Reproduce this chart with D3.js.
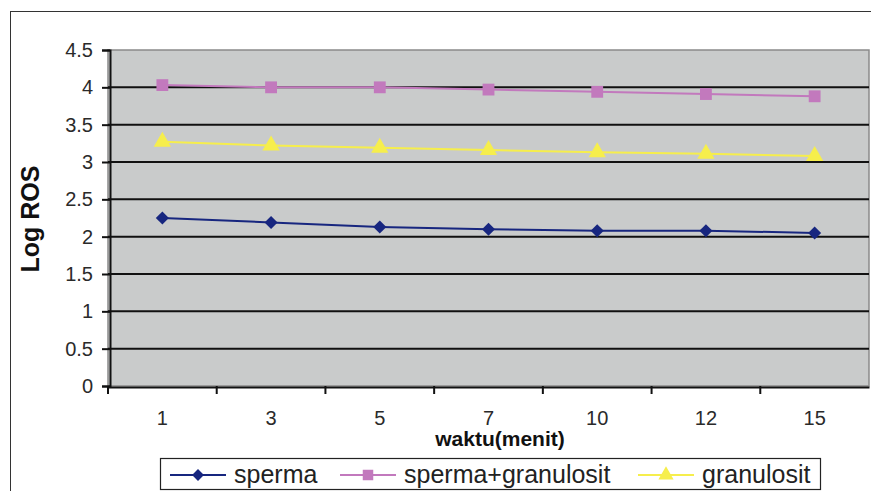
<!DOCTYPE html>
<html>
<head>
<meta charset="utf-8">
<script src="https://cdn.jsdelivr.net/npm/d3@7"></script>
<style>
  body { margin: 0; background: #fff; }
  svg { display: block; font-family: Arial, "Liberation Sans", sans-serif; }
</style>
</head>
<body>
<div id="chart"></div>
<script>
const categories = ["1", "3", "5", "7", "10", "12", "15"];
const sperma = [2.25, 2.19, 2.13, 2.10, 2.08, 2.08, 2.05];
const spermaGranulosit = [4.03, 4.00, 4.00, 3.97, 3.94, 3.91, 3.88];
const granulosit = [3.27, 3.22, 3.19, 3.16, 3.13, 3.11, 3.08];
const yTicks = [0, 0.5, 1, 1.5, 2, 2.5, 3, 3.5, 4, 4.5];

const series = [
  { name: "sperma", values: sperma, color: "#17267f", shape: "diamond" },
  { name: "sperma+granulosit", values: spermaGranulosit, color: "#c279bd", shape: "square" },
  { name: "granulosit", values: granulosit, color: "#f6ee4c", shape: "triangle" }
];

const W = 871, H = 491;
const plot = { left: 108, right: 869, top: 50, bottom: 386 };

const svg = d3.select("#chart").append("svg")
  .attr("width", W)
  .attr("height", H);

// outer chart frame
svg.append("rect")
  .attr("x", 10.5).attr("y", 11.5)
  .attr("width", 880).attr("height", 500)
  .attr("fill", "#fff")
  .attr("stroke", "#333")
  .attr("stroke-width", 1);

const x = d3.scaleBand()
  .domain(categories)
  .range([plot.left, plot.right]);

const y = d3.scaleLinear()
  .domain([0, 4.5])
  .range([plot.bottom, plot.top]);

function marker(shape, big) {
  if (shape === "diamond") return d3.symbol().type(d3.symbolSquare).size(big ? 85 : 70)();
  if (shape === "square") return d3.symbol().type(d3.symbolSquare).size(big ? 140 : 110)();
  return d3.symbol().type(d3.symbolTriangle).size(big ? 130 : 100)();
}

// plot area
svg.append("rect")
  .attr("x", plot.left).attr("y", plot.top)
  .attr("width", plot.right - plot.left)
  .attr("height", plot.bottom - plot.top)
  .attr("fill", "#c9cbcb")
  .attr("stroke", "#8a8a8a")
  .attr("stroke-width", 1.5);

// gridlines
svg.append("g")
  .selectAll("line")
  .data(yTicks.filter(d => d > 0 && d < 4.5))
  .enter()
  .append("line")
  .attr("x1", plot.left)
  .attr("x2", plot.right)
  .attr("y1", d => y(d))
  .attr("y2", d => y(d))
  .attr("stroke", "#111")
  .attr("stroke-width", 2);

// y axis
const yAxis = svg.append("g")
  .attr("transform", `translate(${plot.left + 2},0)`)
  .call(d3.axisLeft(y).tickValues(yTicks).tickSize(8).tickPadding(9)
    .tickFormat(d => String(d)));
yAxis.select(".domain").attr("stroke", "#111").attr("stroke-width", 2);
yAxis.selectAll(".tick line").attr("stroke", "#111").attr("stroke-width", 2);
yAxis.selectAll("text").attr("fill", "#2a2a2a").style("font-size", "20px");

// x axis
const xAxis = svg.append("g")
  .attr("transform", `translate(0,${plot.bottom + 1})`)
  .call(d3.axisBottom(x).tickSize(0).tickPadding(24));
xAxis.select(".domain").attr("stroke", "#111").attr("stroke-width", 2);
xAxis.selectAll("text").attr("fill", "#2a2a2a").style("font-size", "20px");

// tick marks between categories
svg.append("g")
  .selectAll("line")
  .data(categories)
  .enter()
  .append("line")
  .attr("x1", d => x(d))
  .attr("x2", d => x(d))
  .attr("y1", plot.bottom)
  .attr("y2", plot.bottom + 8)
  .attr("stroke", "#111")
  .attr("stroke-width", 2);

// axis titles
svg.append("text")
  .attr("transform", `translate(39,${(plot.top + plot.bottom) / 2 + 1}) rotate(-90)`)
  .attr("text-anchor", "middle")
  .style("font-size", "25px")
  .style("font-weight", "bold")
  .attr("fill", "#111")
  .text("Log ROS");

svg.append("text")
  .attr("x", 500)
  .attr("y", 446)
  .attr("text-anchor", "middle")
  .style("font-size", "21px")
  .style("font-weight", "bold")
  .attr("fill", "#111")
  .text("waktu(menit)");

// series lines and markers
const line = d3.line()
  .x((d, i) => x(categories[i]) + x.bandwidth() / 2)
  .y(d => y(d));

series.forEach(s => {
  svg.append("path")
    .datum(s.values)
    .attr("d", line)
    .attr("fill", "none")
    .attr("stroke", s.color)
    .attr("stroke-width", 2);

  svg.append("g")
    .selectAll("path")
    .data(s.values)
    .enter()
    .append("path")
    .attr("transform", (d, i) => `translate(${x(categories[i]) + x.bandwidth() / 2},${y(d)})` +
      (s.shape === "diamond" ? " rotate(45)" : ""))
    .attr("d", marker(s.shape, true))
    .attr("fill", s.color);
});

// legend
const legend = svg.append("g");
legend.append("rect")
  .attr("x", 160.5).attr("y", 458.5)
  .attr("width", 660).attr("height", 31)
  .attr("fill", "#fff")
  .attr("stroke", "#222")
  .attr("stroke-width", 1.2);

const legendX = [170, 340, 638];
series.forEach((s, i) => {
  const g = legend.append("g").attr("transform", `translate(${legendX[i]},475)`);
  g.append("line")
    .attr("x1", 0).attr("x2", 56)
    .attr("stroke", s.color)
    .attr("stroke-width", 2);
  g.append("path")
    .attr("transform", "translate(28,0)" + (s.shape === "diamond" ? " rotate(45)" : ""))
    .attr("d", marker(s.shape, false))
    .attr("fill", s.color);
  g.append("text")
    .attr("x", 64)
    .attr("y", 8)
    .style("font-size", "25px")
    .attr("fill", "#222")
    .text(s.name);
});
</script>
</body>
</html>
